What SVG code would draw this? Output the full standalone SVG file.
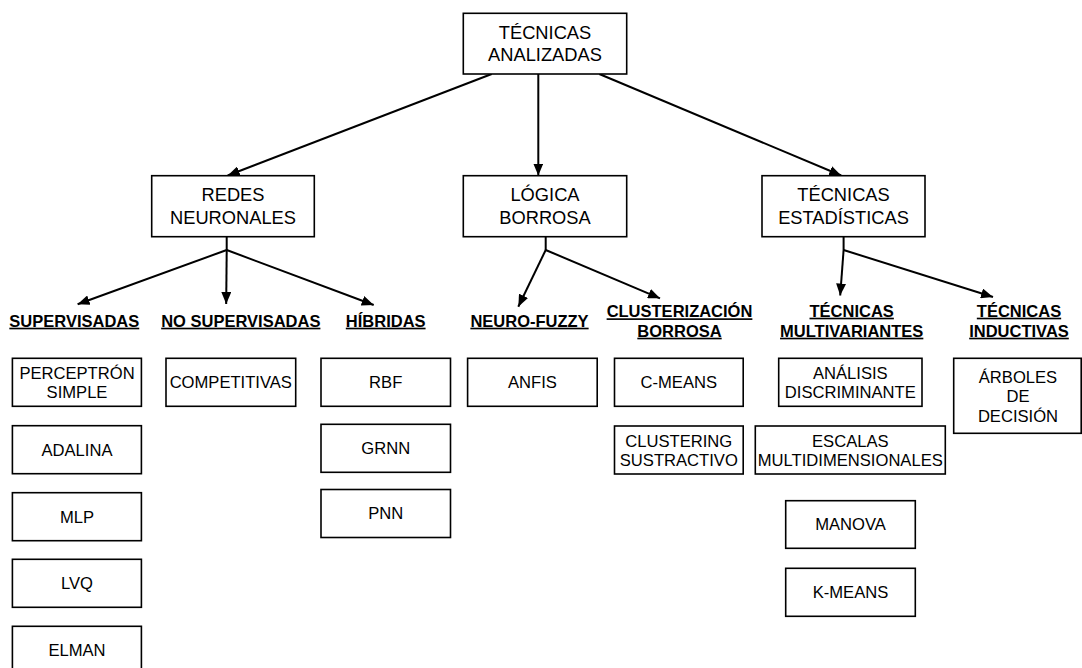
<svg xmlns="http://www.w3.org/2000/svg" width="1082" height="668" viewBox="0 0 1082 668">
<style>
.b{fill:#fff;stroke:#000;stroke-width:1.6}
.m{font-family:"Liberation Sans",Arial,sans-serif;font-size:18.3px;text-anchor:middle;fill:#000}
.t{font-family:"Liberation Sans",Arial,sans-serif;font-size:16.6px;text-anchor:middle;fill:#000}
.h{font-family:"Liberation Sans",Arial,sans-serif;font-size:16.5px;font-weight:bold;text-anchor:middle;fill:#000;text-decoration:underline;text-underline-offset:2.5px;text-decoration-thickness:1.6px}
.c{fill:none;stroke:#000;stroke-width:2}
</style>
<defs>
<marker id="ah" viewBox="0 0 12 10" refX="12" refY="5" markerWidth="12" markerHeight="10" markerUnits="userSpaceOnUse" orient="auto">
<path d="M0,0 L12,5 L0,10 z" fill="#000"/>
</marker>
</defs>
<rect width="1082" height="668" fill="#fff"/>
<g id="connectors">
<line class="c" x1="491.7" y1="74" x2="227.7" y2="175.5" marker-end="url(#ah)"/>
<line class="c" x1="538.3" y1="74" x2="538.3" y2="175.5" marker-end="url(#ah)"/>
<line class="c" x1="599.3" y1="74" x2="841.2" y2="175.5" marker-end="url(#ah)"/>
<line class="c" x1="226.7" y1="236.7" x2="226.7" y2="250"/>
<line class="c" x1="226.7" y1="250" x2="77.6" y2="304.3" marker-end="url(#ah)"/>
<line class="c" x1="226.7" y1="250" x2="226.2" y2="304" marker-end="url(#ah)"/>
<line class="c" x1="226.7" y1="250" x2="373.7" y2="305" marker-end="url(#ah)"/>
<line class="c" x1="545.7" y1="236.7" x2="545.7" y2="250"/>
<line class="c" x1="545.7" y1="250" x2="518.3" y2="306.7" marker-end="url(#ah)"/>
<line class="c" x1="545.7" y1="250" x2="660" y2="298.3" marker-end="url(#ah)"/>
<line class="c" x1="843.6" y1="236.7" x2="843.6" y2="250"/>
<line class="c" x1="843.6" y1="250" x2="840.2" y2="295.5" marker-end="url(#ah)"/>
<line class="c" x1="843.6" y1="250" x2="993" y2="297" marker-end="url(#ah)"/>
</g>
<g id="n-top"><rect class="b" x="463.3" y="13.3" width="163.4" height="60.7"/><text class="m" x="545" y="38.7">TÉCNICAS</text><text class="m" x="545" y="61.2">ANALIZADAS</text></g>
<g id="n-redes"><rect class="b" x="151.7" y="175.7" width="162.6" height="61"/><text class="m" x="233" y="201.2">REDES</text><text class="m" x="233" y="223.7">NEURONALES</text></g>
<g id="n-logica"><rect class="b" x="463.3" y="175.7" width="163.4" height="61"/><text class="m" x="545" y="201.2">LÓGICA</text><text class="m" x="545" y="223.7">BORROSA</text></g>
<g id="n-estad"><rect class="b" x="762" y="175.7" width="163" height="61"/><text class="m" x="843.5" y="201.2">TÉCNICAS</text><text class="m" x="843.5" y="223.7">ESTADÍSTICAS</text></g>
<g id="l-sup"><text class="h" x="74.3" y="326.7">SUPERVISADAS</text></g>
<g id="l-nosup"><text class="h" x="240.8" y="326.7">NO SUPERVISADAS</text></g>
<g id="l-hib"><text class="h" x="385.7" y="326.7">HÍBRIDAS</text></g>
<g id="l-nf"><text class="h" x="529.5" y="326.7">NEURO-FUZZY</text></g>
<g id="l-clus"><text class="h" x="679.5" y="317.3">CLUSTERIZACIÓN</text><text class="h" x="679.5" y="336.7">BORROSA</text></g>
<g id="l-multi"><text class="h" x="851.7" y="316.7">TÉCNICAS</text><text class="h" x="851.7" y="336.7">MULTIVARIANTES</text></g>
<g id="l-induc"><text class="h" x="1019" y="316.7">TÉCNICAS</text><text class="h" x="1019" y="336.7">INDUCTIVAS</text></g>
<g id="n-perceptron"><rect class="b" x="12.4" y="358.3" width="129" height="48"/><text class="t" x="77" y="378.7">PERCEPTRÓN</text><text class="t" x="77" y="397.9">SIMPLE</text></g>
<g id="n-adalina"><rect class="b" x="12.4" y="425.7" width="129" height="48"/><text class="t" x="77" y="455.5">ADALINA</text></g>
<g id="n-mlp"><rect class="b" x="12.4" y="492.7" width="129" height="48"/><text class="t" x="77" y="522.5">MLP</text></g>
<g id="n-lvq"><rect class="b" x="12.4" y="559.3" width="129" height="48"/><text class="t" x="77" y="589.1">LVQ</text></g>
<g id="n-elman"><rect class="b" x="12.4" y="626.3" width="129" height="48"/><text class="t" x="77" y="656.1">ELMAN</text></g>
<g id="n-comp"><rect class="b" x="166" y="358.3" width="129.7" height="48"/><text class="t" x="230.8" y="388.1">COMPETITIVAS</text></g>
<g id="n-rbf"><rect class="b" x="321" y="358.3" width="129.5" height="48"/><text class="t" x="385.7" y="388.1">RBF</text></g>
<g id="n-grnn"><rect class="b" x="321" y="424.3" width="129.5" height="48"/><text class="t" x="385.7" y="454.1">GRNN</text></g>
<g id="n-pnn"><rect class="b" x="321" y="489.5" width="129.5" height="48"/><text class="t" x="385.7" y="519.3">PNN</text></g>
<g id="n-anfis"><rect class="b" x="467.6" y="358.3" width="129.6" height="48"/><text class="t" x="532.4" y="388.1">ANFIS</text></g>
<g id="n-cmeans"><rect class="b" x="614.5" y="358.3" width="128.7" height="48"/><text class="t" x="678.8" y="388.1">C-MEANS</text></g>
<g id="n-clustering"><rect class="b" x="614.5" y="426" width="128.7" height="48"/><text class="t" x="678.8" y="446.5">CLUSTERING</text><text class="t" x="678.8" y="465.8">SUSTRACTIVO</text></g>
<g id="n-analisis"><rect class="b" x="778.7" y="358.3" width="143.3" height="48"/><text class="t" x="850.3" y="378.8">ANÁLISIS</text><text class="t" x="850.3" y="398.1">DISCRIMINANTE</text></g>
<g id="n-escalas"><rect class="b" x="755.3" y="426" width="190" height="48"/><text class="t" x="850.3" y="446.5">ESCALAS</text><text class="t" x="850.3" y="465.8">MULTIDIMENSIONALES</text></g>
<g id="n-manova"><rect class="b" x="785.7" y="500.7" width="129.6" height="47.6"/><text class="t" x="850.5" y="530.3">MANOVA</text></g>
<g id="n-kmeans"><rect class="b" x="785.7" y="568.3" width="129.6" height="48"/><text class="t" x="850.5" y="598.1">K-MEANS</text></g>
<g id="n-arboles"><rect class="b" x="953.7" y="358.3" width="127.5" height="75"/><text class="t" x="1018" y="382.7">ÁRBOLES</text><text class="t" x="1018" y="402">DE</text><text class="t" x="1018" y="421.5">DECISIÓN</text></g>
</svg>
